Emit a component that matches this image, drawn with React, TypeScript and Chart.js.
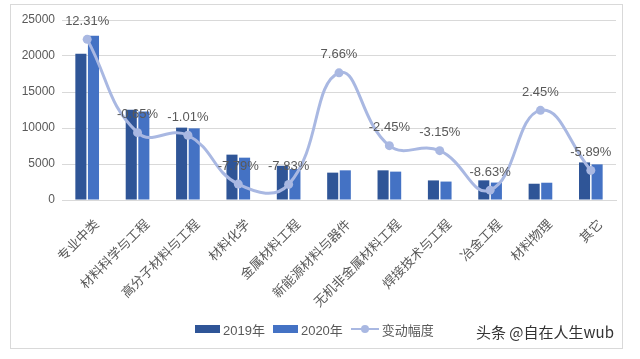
import React, { useEffect, useRef } from "react";
import { Chart, registerables } from "chart.js";

Chart.register(...registerables);

const categories = [
  "专业中类",
  "材料科学与工程",
  "高分子材料与工程",
  "材料化学",
  "金属材料工程",
  "新能源材料与器件",
  "无机非金属材料工程",
  "焊接技术与工程",
  "冶金工程",
  "材料物理",
  "其它",
];
const values2019 = [20300, 12550, 10050, 6300, 4750, 3800, 4120, 2720, 2730, 2260, 5220];
const values2020 = [22800, 12300, 9950, 5880, 4300, 4120, 3940, 2560, 2420, 2400, 4950];
const changePct = [12.31, -0.65, -1.01, -7.79, -7.83, 7.66, -2.45, -3.15, -8.63, 2.45, -5.89];
const yTicks = [0, 5000, 10000, 15000, 20000, 25000];

const FONT = "'Liberation Sans', 'Noto Sans CJK SC', sans-serif";
const TXT = "#595959";

const labelPlugin = {
  id: "pctLabels",
  afterDatasetsDraw(chart: any) {
    const meta = chart.getDatasetMeta(2);
    const ctx = chart.ctx;
    ctx.save();
    ctx.font = `13px ${FONT}`;
    ctx.fillStyle = TXT;
    ctx.textAlign = "center";
    ctx.textBaseline = "middle";
    meta.data.forEach((pt: any, i: number) => {
      ctx.fillText(changePct[i].toFixed(2) + "%", pt.x, pt.y - 18);
    });
    ctx.restore();
  },
};

export default function App() {
  const ref = useRef<HTMLCanvasElement>(null);
  useEffect(() => {
    if (!ref.current) return;
    const chart = new Chart(ref.current, {
      type: "bar",
      data: {
        labels: categories,
        datasets: [
          {
            type: "bar",
            label: "2019年",
            data: values2019,
            backgroundColor: "#2f5597",
            categoryPercentage: 0.5,
            barPercentage: 0.88,
            order: 1,
            yAxisID: "y",
          },
          {
            type: "bar",
            label: "2020年",
            data: values2020,
            backgroundColor: "#4472c4",
            categoryPercentage: 0.5,
            barPercentage: 0.88,
            order: 1,
            yAxisID: "y",
          },
          {
            type: "line",
            label: "变动幅度",
            data: changePct,
            borderColor: "#a9b8e2",
            backgroundColor: "#a9b8e2",
            borderWidth: 3,
            pointRadius: 4.5,
            pointBackgroundColor: "#a9b8e2",
            pointBorderWidth: 0,
            tension: 0.45,
            order: 0,
            yAxisID: "y1",
          } as any,
        ],
      },
      options: {
        animation: false,
        responsive: false,
        maintainAspectRatio: false,
        layout: { padding: { top: 20, right: 24, left: 0, bottom: 0 } },
        plugins: { legend: { display: false }, tooltip: { enabled: false } },
        scales: {
          x: {
            grid: { display: false, drawTicks: false },
            border: { color: "#d9d9d9" },
            ticks: {
              minRotation: 45,
              maxRotation: 45,
              color: TXT,
              font: { size: 13, family: FONT },
              padding: 17,
              labelOffset: 10,
            },
            afterFit(scale: any) {
              scale.height = 159;
            },
          },
          y: {
            min: 0,
            max: 25000,
            afterBuildTicks(scale: any) {
              scale.ticks = yTicks.map((v) => ({ value: v }));
            },
            grid: { color: "#d9d9d9", drawTicks: false },
            border: { display: false },
            ticks: {
              color: TXT,
              font: { size: 12, family: FONT },
              padding: 7,
              callback: (v: any) => String(v),
            },
            afterFit(scale: any) {
              scale.width = 62;
            },
          },
          y1: {
            min: -10,
            max: 15,
            display: false,
          },
        },
      },
      plugins: [labelPlugin],
    } as any);
    return () => chart.destroy();
  }, []);

  const legendText: React.CSSProperties = {
    fontFamily: FONT,
    fontSize: 13,
    color: TXT,
    marginRight: 8,
  };
  return (
    <div style={{ position: "absolute", left: 0, top: 0, width: 640, height: 359, background: "#fff" }}>
      <div
        style={{
          position: "absolute",
          left: 10,
          top: 4,
          width: 613,
          height: 345,
          border: "1px solid #d9d9d9",
          boxSizing: "border-box",
        }}
      />
      <canvas ref={ref} width={640} height={359} style={{ position: "absolute", left: 0, top: 0 }} />
      <div
        style={{
          position: "absolute",
          left: 195,
          top: 320,
          display: "flex",
          alignItems: "center",
          height: 18,
        }}
      >
        <span style={{ width: 25, height: 8, background: "#2f5597", marginRight: 3 }} />
        <span style={legendText}>2019年</span>
        <span style={{ width: 25, height: 8, background: "#4472c4", marginRight: 3 }} />
        <span style={legendText}>2020年</span>
        <span style={{ position: "relative", width: 28, height: 10, marginRight: 3 }}>
          <span style={{ position: "absolute", left: 0, top: 4, width: 28, height: 2, background: "#a9b8e2" }} />
          <span
            style={{
              position: "absolute",
              left: 10,
              top: 1,
              width: 8,
              height: 8,
              borderRadius: 4,
              background: "#a9b8e2",
            }}
          />
        </span>
        <span style={legendText}>变动幅度</span>
      </div>
      <div
        style={{
          position: "absolute",
          left: 476,
          top: 321,
          fontFamily: "'Noto Sans CJK SC', sans-serif",
          fontSize: 15,
          color: "#333",
          whiteSpace: "nowrap",
          textShadow: "0 0 2px #fff",
        }}
      >
        头条 @自在人生wub
      </div>
    </div>
  );
}
